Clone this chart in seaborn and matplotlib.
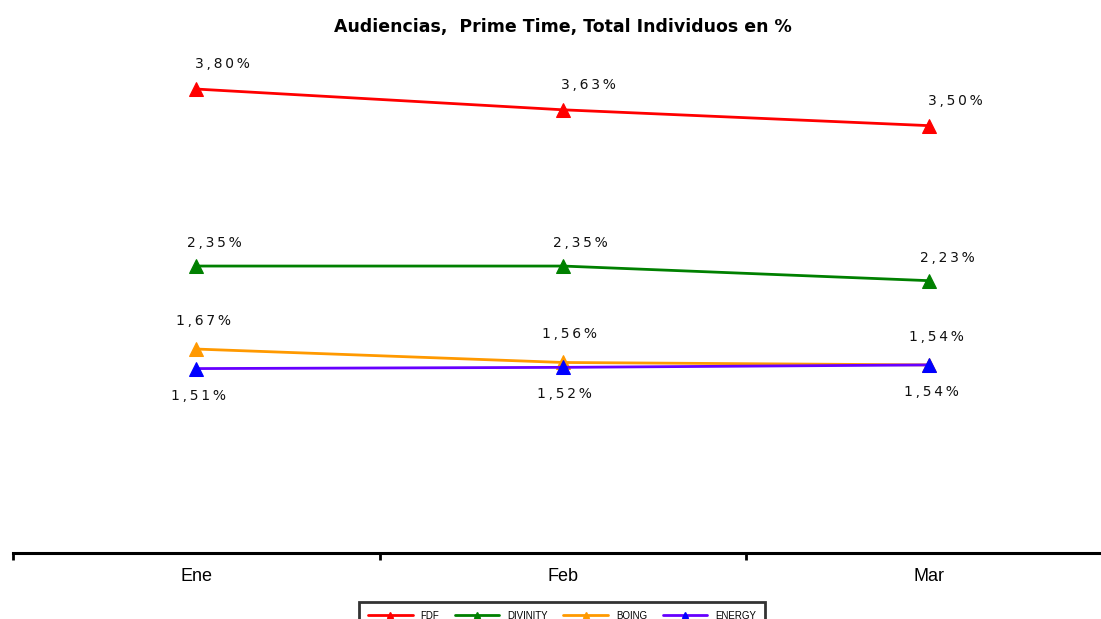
import matplotlib
matplotlib.use("Agg")
import matplotlib.pyplot as plt
import seaborn as sns
import pandas as pd
from matplotlib.lines import Line2D
from matplotlib.ticker import FixedLocator, NullFormatter

months = ["Ene", "Feb", "Mar"]
fdf = [3.80, 3.63, 3.50]
divinity = [2.35, 2.35, 2.23]
boing = [1.67, 1.56, 1.54]
energy = [1.51, 1.52, 1.54]

series = [
    # name, values, line colour, marker colour, label dx (px), label dy (px)
    ("FDF", fdf, "#FF0000", "#FF0000", 26, 18),
    ("DIVINITY", divinity, "#008000", "#008000", 18, 16),
    ("BOING", boing, "#FF9900", "#FF9900", 7, 21),
    ("ENERGY", energy, "#6600FF", "#0000FF", 2, -34),
]

sns.set_theme(style="white")
plt.rcParams["font.family"] = ["DejaVu Sans"]

THIN = "\u2009"


def pct(v):
    # spaced-out percentage label with a decimal comma
    return THIN.join(f"{v:.2f}%".replace(".", ","))


fig = plt.figure(figsize=(11.01, 6.19), dpi=100)
ax = fig.add_axes([13 / 1101, (619 - 552.9) / 619, 1 - 13 / 1101, (552.9 - 3.6) / 619])

x = list(range(len(months)))
handles = []
for name, vals, lc, mc, dx, dy in series:
    df = pd.DataFrame({"x": x, "y": vals})
    sns.lineplot(data=df, x="x", y="y", ax=ax, color=lc, linewidth=2.0,
                 marker="^", markersize=10, markerfacecolor=mc, markeredgecolor=mc,
                 zorder=3, legend=False)
    for xi, v in zip(x, vals):
        ax.annotate(pct(v), (xi, v),
                    xytext=(dx * 0.72, dy * 0.72), textcoords="offset points",
                    ha="center", va="bottom", fontsize=10, color="#111111")
    handles.append(Line2D([0], [0], color=lc, linewidth=2.0, marker="^",
                          markersize=5, markerfacecolor=mc, markeredgecolor=mc,
                          label=name))

ax.set_xlim(-0.5, 2.468)
ax.set_ylim(0, 4.5)
ax.set_xlabel("")
ax.set_ylabel("")
ax.set_yticks([])

for s in ["top", "right", "left"]:
    ax.spines[s].set_visible(False)
ax.spines["bottom"].set_linewidth(2.2)
ax.spines["bottom"].set_color("black")

# category boundaries carry the ticks, centres carry the labels
ax.xaxis.set_major_locator(FixedLocator([-0.5, 0.5, 1.5, 2.5]))
ax.xaxis.set_major_formatter(NullFormatter())
ax.xaxis.set_minor_locator(FixedLocator(x))
ax.set_xticklabels(months, minor=True)
ax.tick_params(axis="x", which="major", direction="out", length=5, width=2,
               color="black", bottom=True)
ax.tick_params(axis="x", which="minor", length=0, pad=11,
               labelsize=13, labelcolor="black", bottom=True)
for lbl in ax.get_xticklabels(minor=True):
    lbl.set_fontfamily("Liberation Sans")

fig.text(563 / 1101, 1 - 27 / 619, "Audiencias,  Prime Time, Total Individuos en %",
         ha="center", va="center", fontsize=12.5, fontweight="bold",
         color="black", family="DejaVu Sans")

leg = fig.legend(handles=handles, loc="upper center", ncol=4,
                 bbox_to_anchor=(562 / 1101, 1 - 597 / 619),
                 prop={"family": "Liberation Sans", "size": 7},
                 handlelength=4.6, columnspacing=1.6, handletextpad=0.8,
                 frameon=True, fancybox=False, borderpad=0.9)
leg.get_frame().set_edgecolor("black")
leg.get_frame().set_linewidth(2)
for t in leg.get_texts():
    t.set_color("black")

fig.savefig("out.png", dpi=100)
